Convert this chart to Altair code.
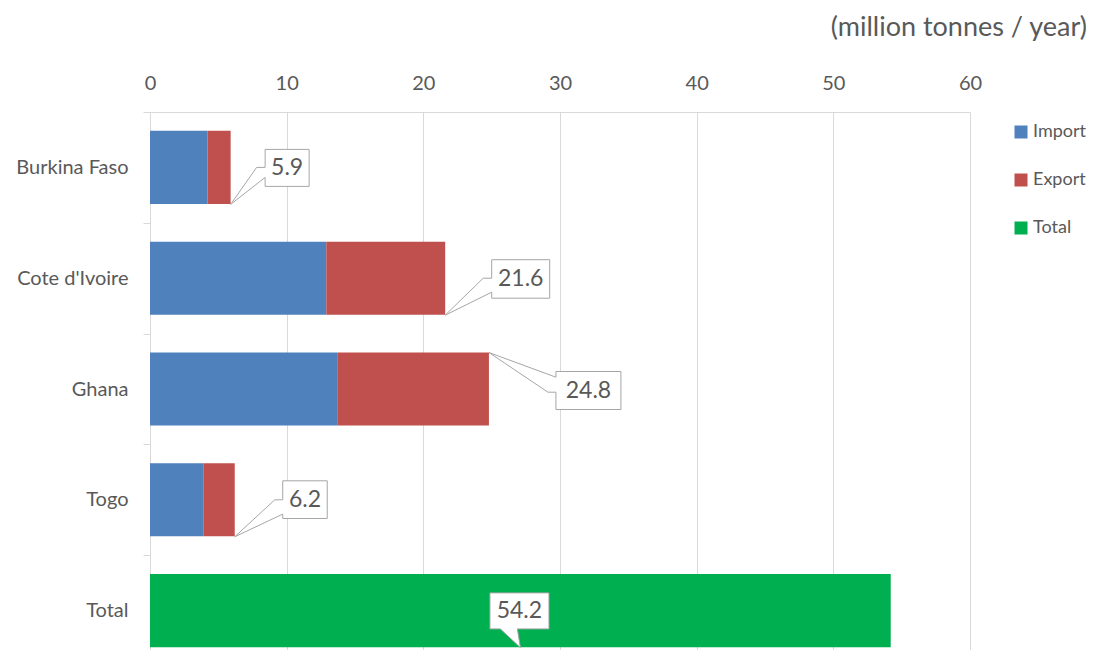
import altair as alt
import pandas as pd

# ---- data ----
categories = ["Burkina Faso", "Cote d'Ivoire", "Ghana", "Togo", "Total"]
import_vals = [4.2, 12.9, 13.7, 3.9]
export_vals = [1.7, 8.7, 11.1, 2.3]
total_vals = [5.9, 21.6, 24.8, 6.2, 54.2]
series = ["Import", "Export", "Total"]
colors = ["#4F81BD", "#C0504D", "#00B050"]
x_ticks = [0, 10, 20, 30, 40, 50, 60]
unit_title = "(million tonnes / year)"

rows = []
for c, i, e in zip(categories[:4], import_vals, export_vals):
    rows.append({"cat": c, "series": "Import", "value": i, "order": 0})
    rows.append({"cat": c, "series": "Export", "value": e, "order": 1})
rows.append({"cat": categories[4], "series": "Total", "value": total_vals[4], "order": 2})
bars_df = pd.DataFrame(rows)

labels_df = pd.DataFrame({
    "cat": categories,
    "total": total_vals,
    "label": [f"{v:.1f}" for v in total_vals],
})

# ---- styling / callout geometry (pixels relative to the anchor point) ----
FONT = "Lato"
TXT = "#595959"
GRID = "#D9D9D9"

callouts = {
    "Burkina Faso": {"path": "M34.5,-18 L78.5,-18 L78.5,19 L34.5,19 L34.5,10 L0,37 L26,0 L34.5,0 Z", "dx": 56.5, "dy": 1},
    "Cote d'Ivoire": {"path": "M46.5,-18.5 L104.5,-18.5 L104.5,20 L46.5,20 L46.5,14 L0,37 L38,0 L46.5,0 Z", "dx": 75.5, "dy": 1},
    "Ghana": {"path": "M67,-17.5 L132,-17.5 L132,20.5 L67,20.5 L67,3.2 L59,3.2 L0,-36.5 L67,-11.8 Z", "dx": 99.5, "dy": 2},
    "Togo": {"path": "M48,-19 L92.5,-19 L92.5,18.7 L48,18.7 L48,14.3 L0,37 L40,0 L48,0 Z", "dx": 70.25, "dy": 0},
    "Total": {"path": "M-30.4,-17.7 L28.6,-17.7 L28.6,18.3 L-3,18.3 L0,37 L-20,18.3 L-30.4,18.3 Z", "dx": -1, "dy": 0.5},
}

y_enc = alt.Y(
    "cat:N",
    sort=categories,
    scale=alt.Scale(domain=categories, range=[0, 554], paddingInner=0, paddingOuter=0),
    axis=alt.Axis(
        title=None, labelFontSize=20, labelFont=FONT, labelColor=TXT,
        tickBand="extent", tickSize=7, tickColor=GRID, domainColor=GRID,
        labelPadding=15, grid=False,
    ),
)

x_scale = alt.Scale(domain=[0, 60], nice=False, zero=True)
x_axis = alt.Axis(
    orient="top", title=None, values=x_ticks, labelFontSize=20, labelFont=FONT,
    labelColor=TXT, ticks=False, tickSize=0, labelPadding=19, domainColor=GRID,
    gridColor=GRID, grid=True, labelFlush=False,
)

bars = alt.Chart(bars_df).mark_bar(height={"band": 0.66}).encode(
    x=alt.X("value:Q", stack="zero", scale=x_scale, axis=x_axis),
    y=y_enc,
    color=alt.Color(
        "series:N",
        scale=alt.Scale(domain=series, range=colors),
        legend=alt.Legend(
            title=None, orient="none", legendX=862, legendY=11,
            symbolType="square", symbolSize=169, symbolStrokeWidth=0,
            labelFontSize=18, labelFont=FONT, labelColor=TXT,
            rowPadding=30, padding=0, labelOffset=3,
        ),
    ),
    order=alt.Order("order:Q"),
)

layers = [bars]
for cat in categories:
    spec = callouts[cat]
    base = alt.Chart(labels_df).transform_filter(
        alt.datum.cat == cat
    ).transform_calculate(
        anchor="datum.cat == 'Total' ? datum.total / 2 : datum.total"
    )
    box = base.mark_point(
        shape=spec["path"], size=4, filled=True, fill="white",
        stroke="#A6A6A6", strokeWidth=1, opacity=1,
    ).encode(
        x=alt.X("anchor:Q", scale=x_scale, axis=x_axis),
        y=y_enc,
    )
    txt = base.mark_text(
        dx=spec["dx"], dy=spec["dy"], fontSize=23, font=FONT, color=TXT,
        align="center", baseline="middle",
    ).encode(
        x=alt.X("anchor:Q", scale=x_scale, axis=x_axis),
        y=y_enc,
        text="label:N",
    )
    layers += [box, txt]

chart = alt.layer(*layers).properties(
    width=820,
    height=538,
    title=alt.TitleParams(
        unit_title, anchor="end", frame="group", dx=117, offset=31,
        fontSize=27, font=FONT, color=TXT, fontWeight="normal",
    ),
    autosize=alt.AutoSizeParams(type="none"),
    padding={"left": 142, "top": 104, "right": 121, "bottom": 0},
).configure_view(stroke=None)

chart.save("out.html", embed_options={"renderer": "svg", "actions": False})
